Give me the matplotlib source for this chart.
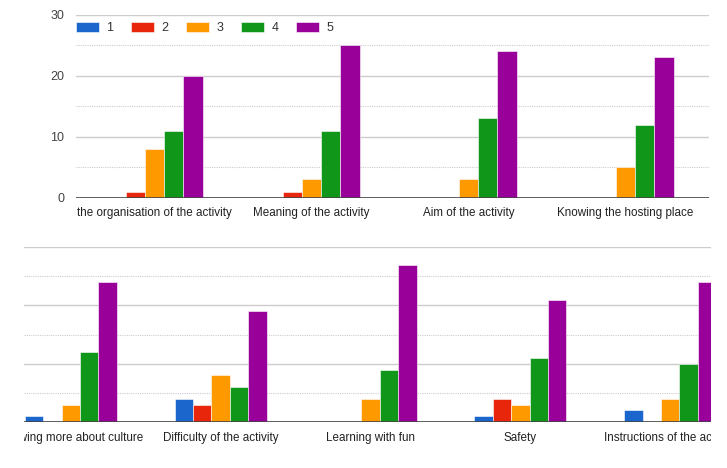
import numpy as np
import matplotlib
matplotlib.use("Agg")
import matplotlib.pyplot as plt
from matplotlib.transforms import Bbox, TransformedBbox, blended_transform_factory

plt.rcParams['font.family'] = ['Liberation Sans', 'DejaVu Sans']

# ratings 1..5, counts per item
top_labels = ["the organisation of the activity", "Meaning of the activity",
              "Aim of the activity", "Knowing the hosting place"]
top_r1 = [0, 0, 0, 0]
top_r2 = [1, 1, 0, 0]
top_r3 = [8, 3, 3, 5]
top_r4 = [11, 11, 13, 12]
top_r5 = [20, 25, 24, 23]

bot_labels = ["Knowing more about culture", "Difficulty of the activity",
              "Learning with fun", "Safety", "Instructions of the activity"]
bot_r1 = [1, 4, 0, 1, 2]
bot_r2 = [0, 3, 0, 4, 0]
bot_r3 = [3, 8, 4, 3, 4]
bot_r4 = [12, 6, 9, 11, 10]
bot_r5 = [24, 19, 27, 21, 24]

series_names = ["1", "2", "3", "4", "5"]
colors = ["#1a66cc", "#e8260c", "#ff9900", "#109618", "#990099"]

fig = plt.figure(figsize=(7.27, 4.68), dpi=100)
ax1 = fig.add_axes([76/727, 1-197.7/468, 632.7/727, 183/468])
ax2 = fig.add_axes([24.3/727, 1-422/468, 686.4/727, 175/468])

bw = 0.123


def draw(ax, labels, series, xlim):
    x = np.arange(len(labels))
    for i, vals in enumerate(series):
        ax.bar(x + (i - 2) * bw, vals, bw, color=colors[i], edgecolor='white',
               linewidth=0.4, label=series_names[i], zorder=3)
    ax.set_xlim(*xlim)
    ax.set_ylim(0, 30)
    ax.set_yticks([0, 10, 20, 30])
    ax.set_yticks([5, 15, 25], minor=True)
    ax.grid(axis='y', which='major', color='#cccccc', linewidth=1, zorder=0)
    ax.grid(axis='y', which='minor', color='#cccccc', linewidth=0.8,
            linestyle=(0, (1, 1)), zorder=0)
    ax.axhline(0, color='#444444', linewidth=1.2, zorder=4)
    for s in ax.spines.values():
        s.set_visible(False)
    ax.set_xticks(x)
    ax.set_xticklabels(labels, fontsize=8.4, color='#222222')
    ax.tick_params(axis='both', which='both', length=0)
    ax.tick_params(axis='x', pad=7)
    ax.tick_params(axis='y', labelsize=9, labelcolor='#444444', pad=8.5)
    clip = TransformedBbox(Bbox([[0, 0], [1, 1]]),
                           blended_transform_factory(ax.transAxes, fig.transFigure))
    for lbl in ax.get_xticklabels():
        lbl.set_clip_box(clip)
        lbl.set_clip_on(True)


draw(ax1, top_labels, [top_r1, top_r2, top_r3, top_r4, top_r5], (-0.5, 3.53))
draw(ax2, bot_labels, [bot_r1, bot_r2, bot_r3, bot_r4, bot_r5], (-0.31, 4.27))
ax2.set_yticklabels([])

ax1.legend(loc='upper left', bbox_to_anchor=(-0.004, 0.975), ncol=5, frameon=False,
           fontsize=9, handlelength=1.85, handleheight=0.9,
           handletextpad=0.55, columnspacing=1.45, borderaxespad=0,
           borderpad=0.2, labelcolor='#333333')

fig.savefig("out.png", dpi=100)
